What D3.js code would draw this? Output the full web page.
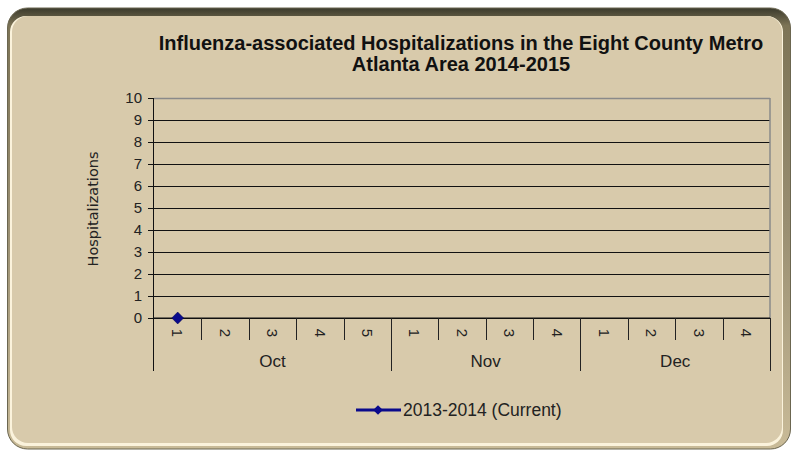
<!DOCTYPE html>
<html>
<head>
<meta charset="utf-8">
<script src="https://cdn.jsdelivr.net/npm/d3@7"></script>
<style>
  body { margin: 0; background: #fff; }
  svg { display: block; font-family: "Liberation Sans", Arial, sans-serif; }
</style>
</head>
<body>
<div class="container"></div>
<script>
// chart data
const months = ['Oct', 'Nov', 'Dec']
const weeksPerMonth = [5, 4, 4]
const seriesName = '2013-2014 (Current)'
// one value per week, null = not reported yet
const values = [0, null, null, null, null, null, null, null, null, null, null, null, null]
const yTicks = [0, 1, 2, 3, 4, 5, 6, 7, 8, 9, 10]

const W = 795, H = 451
const margin = {top: 98, left: 154, right: 25, bottom: 133}
const plotW = W - margin.left - margin.right
const plotH = H - margin.top - margin.bottom

// build the categories (month, week)
const cats = []
months.forEach((m, i) => {
    for (let w = 1; w <= weeksPerMonth[i]; w++) {
        cats.push({ key: m + '-' + w, month: m, week: w })
    }
})
const data = cats.map((c, i) => ({ ...c, value: values[i] }))

const svg = d3.select('.container')
    .append('svg')
    .attr('width', W)
    .attr('height', H)

const defs = svg.append('defs')
const bevel = defs.append('linearGradient')
    .attr('id', 'bevel').attr('x1', 0).attr('y1', 0).attr('x2', 0).attr('y2', 1)
bevel.append('stop').attr('offset', '0%').attr('stop-color', '#3b3a2c')
bevel.append('stop').attr('offset', '4%').attr('stop-color', '#7d7456')
bevel.append('stop').attr('offset', '50%').attr('stop-color', '#9a8f72')
bevel.append('stop').attr('offset', '100%').attr('stop-color', '#c9bb98')

// frame
svg.append('rect')
    .attr('x', 7.5).attr('y', 8).attr('width', 783).attr('height', 441)
    .attr('rx', 20)
    .attr('fill', 'url(#bevel)')
    .attr('stroke', '#6b6650').attr('stroke-width', 1)
svg.append('rect')
    .attr('x', 10).attr('y', 16).attr('width', 773).attr('height', 430)
    .attr('rx', 16)
    .attr('fill', '#fbf3dc')
svg.append('rect')
    .attr('x', 12).attr('y', 16).attr('width', 770).attr('height', 427)
    .attr('rx', 16)
    .attr('fill', '#d8caab')

// title
const title = svg.append('text')
    .attr('text-anchor', 'middle')
    .attr('font-weight', 'bold')
    .attr('font-size', 20)
    .attr('fill', '#111')
title.append('tspan').attr('x', 461).attr('y', 50).text('Influenza-associated Hospitalizations in the Eight County Metro')
title.append('tspan').attr('x', 461).attr('y', 71).text('Atlanta Area 2014-2015')

const g = svg.append('g')
    .attr('transform', `translate(${margin.left}, ${margin.top})`)

const xScale = d3.scaleBand()
    .domain(cats.map(c => c.key))
    .range([0, plotW])

const yScale = d3.scaleLinear()
    .domain([0, 10])
    .range([plotH, 0])

// gridlines
g.append('g')
    .attr('class', 'grid')
    .call(d3.axisLeft(yScale).tickValues(yTicks).tickSize(-plotW).tickFormat(''))
    .call(s => s.select('.domain').remove())
    .selectAll('line')
    .attr('stroke', d => d === 10 ? '#8a8a8a' : '#111')
    .attr('stroke-width', d => d === 10 ? 1.5 : 1)

// right border of plot area
g.append('line')
    .attr('x1', plotW).attr('x2', plotW)
    .attr('y1', 0).attr('y2', plotH)
    .attr('stroke', '#8a8a8a').attr('stroke-width', 1.5)

// y axis
const yAxis = g.append('g')
    .call(d3.axisLeft(yScale).tickValues(yTicks).tickSize(6).tickPadding(6))
yAxis.select('.domain').attr('stroke', '#111').attr('d', `M-0.5,${plotH + 53}V0`)
yAxis.selectAll('line').attr('stroke', '#111')
yAxis.selectAll('text')
    .attr('font-size', 15).attr('fill', '#222')
    .attr('font-family', '"Liberation Sans", Arial, sans-serif')

svg.append('text')
    .attr('transform', 'translate(98, 209) rotate(-90)')
    .attr('text-anchor', 'middle')
    .attr('font-family', '"DejaVu Sans", Verdana, sans-serif')
    .attr('font-size', 14.5)
    .attr('fill', '#222')
    .text('Hospitalizations')

// x axis: weeks
const xAxis = g.append('g')
    .attr('transform', `translate(0, ${plotH})`)
xAxis.append('line')
    .attr('x1', 0).attr('x2', plotW)
    .attr('stroke', '#111')

// separators between weeks
cats.forEach((c, i) => {
    const x = xScale(c.key) + xScale.bandwidth()
    const monthEnd = c.week === weeksPerMonth[months.indexOf(c.month)]
    xAxis.append('line')
        .attr('x1', Math.round(x) + 0.5).attr('x2', Math.round(x) + 0.5)
        .attr('y1', 0).attr('y2', monthEnd ? 53 : 22)
        .attr('stroke', '#222')
})

xAxis.selectAll('.wk')
    .data(cats)
    .enter()
    .append('text')
    .attr('class', 'wk')
    .attr('transform', d => `translate(${xScale(d.key) + xScale.bandwidth() / 2}, 15) rotate(90)`)
    .attr('text-anchor', 'middle')
    .attr('dy', '0.35em')
    .attr('font-size', 15)
    .attr('fill', '#222')
    .text(d => d.week)

// month labels
months.forEach((m, i) => {
    const mc = cats.filter(c => c.month === m)
    const x0 = xScale(mc[0].key)
    const x1 = xScale(mc[mc.length - 1].key) + xScale.bandwidth()
    xAxis.append('text')
        .attr('x', (x0 + x1) / 2)
        .attr('y', 49)
        .attr('text-anchor', 'middle')
        .attr('font-size', 17)
        .attr('fill', '#222')
        .text(m)
})

// series
const line = d3.line()
    .defined(d => d.value !== null)
    .x(d => xScale(d.key) + xScale.bandwidth() / 2)
    .y(d => yScale(d.value))

g.append('path')
    .datum(data)
    .attr('fill', 'none')
    .attr('stroke', '#0a0a8c')
    .attr('stroke-width', 3)
    .attr('d', line)

const diamond = d3.symbol().type(d3.symbolDiamond2).size(90)
g.selectAll('.pt')
    .data(data.filter(d => d.value !== null))
    .enter()
    .append('path')
    .attr('class', 'pt')
    .attr('transform', d => `translate(${xScale(d.key) + xScale.bandwidth() / 2}, ${yScale(d.value)})`)
    .attr('d', diamond)
    .attr('fill', '#0a0a8c')
    .attr('stroke', '#05054a')
    .attr('stroke-width', 0.5)

// legend
const lg = svg.append('g').attr('transform', 'translate(356, 410)')
lg.append('line')
    .attr('x1', 0).attr('x2', 45)
    .attr('stroke', '#0a0a8c').attr('stroke-width', 3)
lg.append('path')
    .attr('transform', 'translate(22, 0)')
    .attr('d', d3.symbol().type(d3.symbolDiamond2).size(60))
    .attr('fill', '#0a0a8c')
lg.append('text')
    .attr('x', 47).attr('dy', '0.35em')
    .attr('font-size', 17.5)
    .attr('fill', '#222')
    .text(seriesName)
</script>
</body>
</html>
